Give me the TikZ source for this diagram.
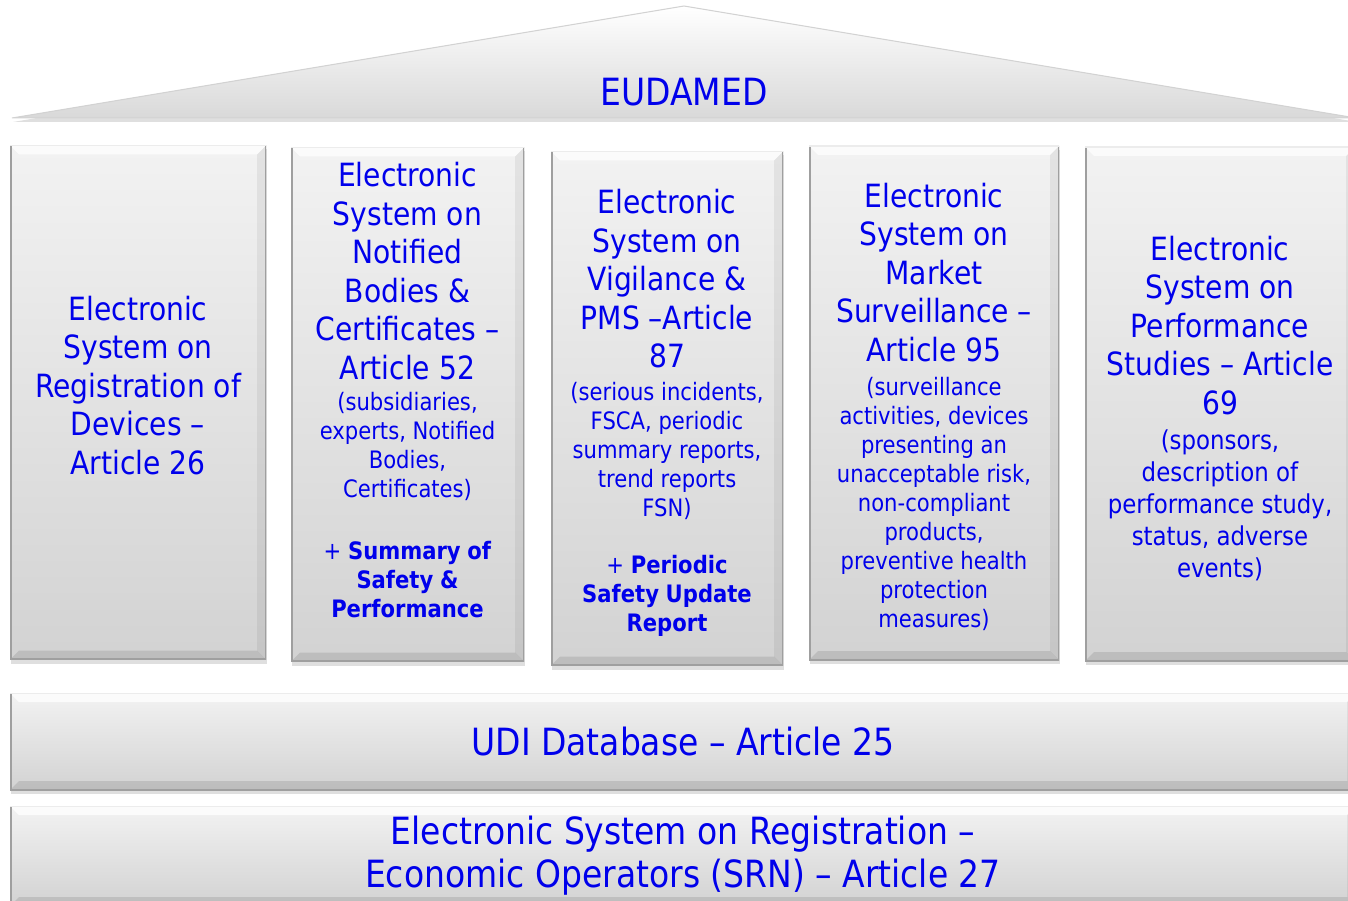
\documentclass[tikz,border=0pt]{standalone}
\usepackage{fontspec}
\setmainfont{DejaVu Sans}[FakeStretch=0.88]
\usetikzlibrary{shadows}

\definecolor{eublue}{RGB}{0,0,235}
\newcommand\fixspace{\spaceskip=\fontdimen2\font\xspaceskip=\fontdimen2\font}
\newcommand\bigtxt{\fontsize{32}{38.5}\selectfont\fixspace}
\newcommand\smalltxt{\fontsize{24}{29}\selectfont\fixspace}
\newcommand\midtxt{\fontsize{26}{32}\selectfont\fixspace}
\newcommand\bartxt{\fontsize{37.5}{43}\selectfont}

\begin{document}
\begin{tikzpicture}[
  x = 1pt, y = -1pt,
  bevel/.style = {path picture = {
      \coordinate (nw) at (path picture bounding box.north west);
      \coordinate (ne) at (path picture bounding box.north east);
      \coordinate (sw) at (path picture bounding box.south west);
      \coordinate (se) at (path picture bounding box.south east);
      \fill[white, opacity = 0.75] (nw) -- (ne) -- ([shift = {(-9,9)}]ne) -- ([shift = {(9,9)}]nw) -- cycle;
      \fill[black, opacity = 0.10] (sw) -- (se) -- ([shift = {(-9,-9)}]se) -- ([shift = {(9,-9)}]sw) -- cycle;
      \fill[black, opacity = 0.06] (ne) -- (se) -- ([shift = {(-9,-9)}]se) -- ([shift = {(-9,9)}]ne) -- cycle;
      \draw[gray!75, line width = 3pt] (nw) -- (sw) -- (se) -- (ne);
      \draw[gray!15, line width = 2pt] (nw) -- (ne);
    }},
  slab/.style = {bevel, top color = gray!10, bottom color = gray!35,
                 drop shadow = {shadow xshift = 1pt, shadow yshift = -4pt, opacity = 0.25}},
  pillar/.style = {slab, minimum height = 514pt},
  bar/.style = {slab, minimum width = 1346pt, inner sep = 0pt, text = eublue, font = \bartxt},
  coltext/.style = {text = eublue, text width = 250pt, align = center, inner sep = 0pt},
  ]
  \useasboundingbox (0,0) rectangle (1348,901);
  \clip (0,0) rectangle (1348,901);

  % roof
  \path[draw = gray!35, line width = 1pt, top color = white, bottom color = gray!30,
        drop shadow = {shadow xshift = 1pt, shadow yshift = -4pt, opacity = 0.25}]
    (12,118) -- (684,6) -- (1356,118) -- cycle;
  \node[text = eublue, font = \bartxt] (eudamed) at (684,92) {EUDAMED};

  % pillars
  \node[pillar, minimum width = 256pt] (p1) at (138,402.5) {};
  \node[pillar, minimum width = 233pt] (p2) at (407.5,404.5) {};
  \node[pillar, minimum width = 232pt] (p3) at (667,408.5) {};
  \node[pillar, minimum width = 250pt] (p4) at (934,403) {};
  \node[pillar, minimum width = 270pt] (p5) at (1220,404) {};

  \node[coltext] (t1) at (138,385.5)
    {\bigtxt Electronic\\System on\\Registration of\\Devices –\\Article 26\par};
  \node[coltext] (t2) at (407.5,390)
    {{\bigtxt Electronic\\System on\\Notified\\Bodies \&\\Certificates –\\Article 52\par}
     \vspace{2pt}
     {\smalltxt (subsidiaries,\\experts, Notified\\Bodies,\\Certificates)\par}
     \vspace{33pt}
     {\smalltxt + \textbf{Summary of}\\\textbf{Safety \&}\\\textbf{Performance}\par}};
  \node[coltext] (t3) at (667,413)
    {{\bigtxt Electronic\\System on\\Vigilance \&\\PMS –Article\\87\par}
     \vspace{4pt}
     {\smalltxt (serious incidents,\\FSCA, periodic\\summary reports,\\trend reports\\FSN)\par}
     \vspace{28pt}
     {\smalltxt + \textbf{Periodic}\\\textbf{Safety Update}\\\textbf{Report}\par}};
  \node[coltext] (t4) at (934,406.5)
    {{\bigtxt Electronic\\System on\\Market\\Surveillance –\\Article 95\par}
     \vspace{5pt}
     {\smalltxt (surveillance\\activities, devices\\presenting an\\unacceptable risk,\\non-compliant\\products,\\preventive health\\protection\\measures)\par}};
  \node[coltext] (t5) at (1220,408.5)
    {{\bigtxt Electronic\\System on\\Performance\\Studies – Article\\69\par}
     \vspace{3pt}
     {\midtxt (sponsors,\\description of\\performance study,\\status, adverse\\events)\par}};

  % base
  \node[bar, minimum height = 97pt] (udi) at (683,741.5) {UDI Database – Article 25};
  \node[bar, minimum height = 100pt, align = center] (srn) at (683,856)
    {Electronic System on Registration –\\Economic Operators (SRN) – Article 27};
\end{tikzpicture}
\end{document}
